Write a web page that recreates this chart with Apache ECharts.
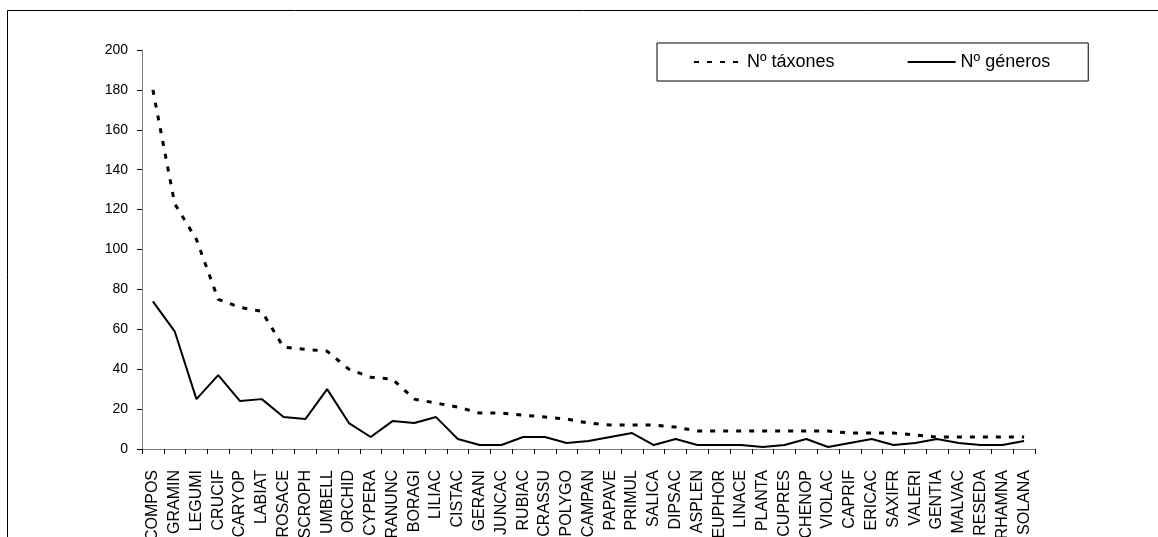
<!DOCTYPE html>
<html>
<head>
<meta charset="utf-8">
<script src="https://cdn.jsdelivr.net/npm/echarts@6/dist/echarts.min.js"></script>
<style>html,body{margin:0;padding:0;background:#fff;}#c{width:1158px;height:537px;}</style>
</head>
<body>
<div id="c"></div>
<script>
const categories = ["COMPOS","GRAMIN","LEGUMI","CRUCIF","CARYOP","LABIAT","ROSACE","SCROPH","UMBELL","ORCHID","CYPERA","RANUNC","BORAGI","LILIAC","CISTAC","GERANI","JUNCAC","RUBIAC","CRASSU","POLYGO","CAMPAN","PAPAVE","PRIMUL","SALICA","DIPSAC","ASPLEN","EUPHOR","LINACE","PLANTA","CUPRES","CHENOP","VIOLAC","CAPRIF","ERICAC","SAXIFR","VALERI","GENTIA","MALVAC","RESEDA","RHAMNA","SOLANA"];
const taxones = [180,123,105,75,71,69,51,50,49,40,36,35,25,23,21,18,18,17,16,15,13,12,12,12,11,9,9,9,9,9,9,9,8,8,8,7,6,6,6,6,6];
const generos = [74,59,25,37,24,25,16,15,30,13,6,14,13,16,5,2,2,6,6,3,4,6,8,2,5,2,2,2,1,2,5,1,3,5,2,3,5,3,2,2,4];
const yTicks = {min:0, max:200, interval:20};
const seriesNames = ["Nº táxones","Nº géneros"];

const chart = echarts.init(document.getElementById('c'), null, {renderer:'canvas'});
const font = 'Arial, "Liberation Sans", sans-serif';
chart.setOption({
  animation:false,
  backgroundColor:'#fff',
  graphic:[{type:'rect', shape:{x:7.5,y:10.5,width:1300,height:700}, style:{fill:'none', stroke:'#000', lineWidth:1}, silent:true}],
  grid:{left:142, right:123, top:50, bottom:88, containLabel:false, outerBoundsMode:'none'},
  legend:{
    left:657, top:43,
    padding:[10,38,10,36],
    itemWidth:48, itemHeight:10, itemGap:72,
    borderColor:'#000', borderWidth:1,
    itemStyle:{opacity:0},
    textStyle:{fontFamily:font, fontSize:18, color:'#000', padding:[0,0,0,0]},
    data:seriesNames
  },
  xAxis:{
    type:'category', data:categories, boundaryGap:true,
    axisLine:{lineStyle:{color:'#808080', width:1}},
    axisTick:{show:true, length:5, lineStyle:{color:'#000'}},
    axisLabel:{interval:0, rotate:90, margin:21, fontFamily:font, fontSize:16, color:'#000'},
    splitLine:{show:false}
  },
  yAxis:{
    type:'value', min:yTicks.min, max:yTicks.max, interval:yTicks.interval,
    axisLine:{show:true, lineStyle:{color:'#808080', width:1}},
    axisTick:{show:true, length:5, lineStyle:{color:'#000'}},
    axisLabel:{margin:14, fontFamily:font, fontSize:14, color:'#000'},
    splitLine:{show:false}
  },
  series:[
    {name:seriesNames[0], type:'line', data:taxones, symbol:'none', showSymbol:false,
     lineStyle:{color:'#000', width:3, type:[5,8], cap:'butt'}, itemStyle:{color:'#000'}},
    {name:seriesNames[1], type:'line', data:generos, symbol:'none', showSymbol:false,
     lineStyle:{color:'#000', width:2, type:'solid'}, itemStyle:{color:'#000'}}
  ]
});
</script>
</body>
</html>
